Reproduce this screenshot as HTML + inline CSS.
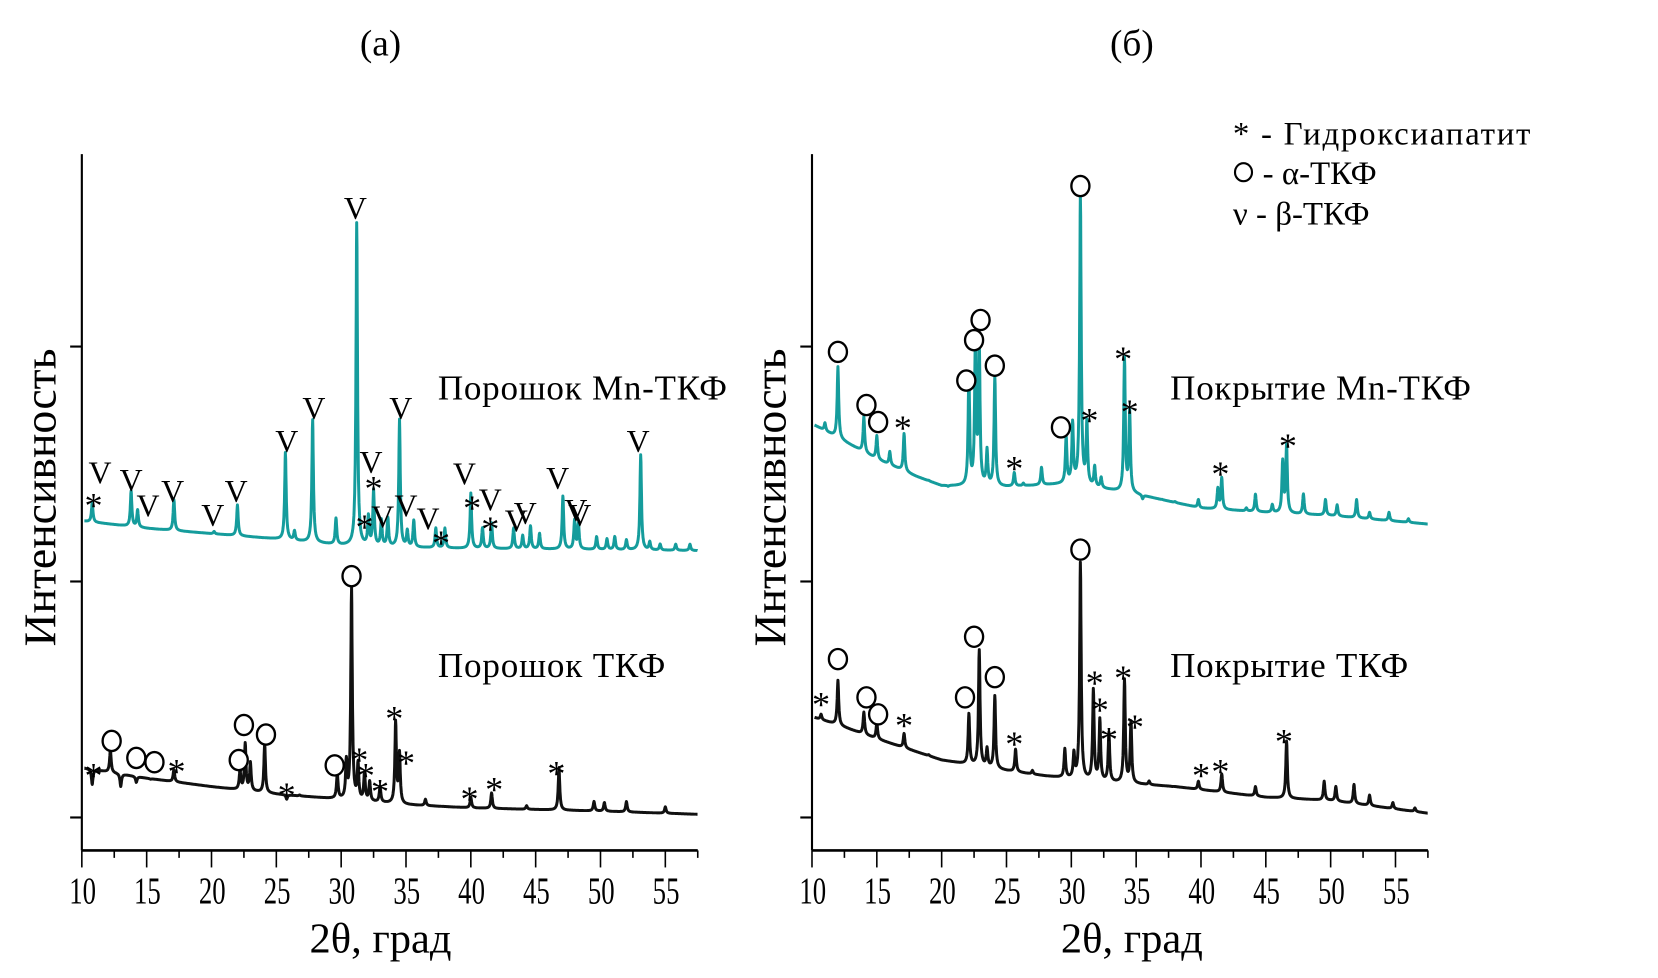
<!DOCTYPE html>
<html><head><meta charset="utf-8">
<style>
html,body{margin:0;padding:0;background:#fff;}
svg{display:block;}
text{font-family:"Liberation Serif","DejaVu Serif",serif;fill:#000;}
</style></head>
<body>
<svg id="chart" width="1658" height="978" viewBox="0 0 1560 920" preserveAspectRatio="none" xmlns="http://www.w3.org/2000/svg">
<g id="static">
<text x="358" y="52" font-size="35" text-anchor="middle">(a)</text>
<text x="1065" y="52" font-size="35" text-anchor="middle">(б)</text>
<text transform="translate(52,468) rotate(-90)" font-size="43" text-anchor="middle">Интенсивность</text>
<text transform="translate(739,468) rotate(-90)" font-size="43" text-anchor="middle">Интенсивность</text>
<text x="358" y="896" font-size="40" text-anchor="middle">2θ, град</text>
<text x="1065" y="896" font-size="40" text-anchor="middle">2θ, град</text>
<text x="412" y="376" font-size="33" textLength="272">Порошок Mn-ТКФ</text>
<text x="412" y="637" font-size="33" textLength="214">Порошок ТКФ</text>
<text x="1101" y="376" font-size="33" textLength="283">Покрытие Mn-ТКФ</text>
<text x="1101" y="637" font-size="33" textLength="224">Покрытие ТКФ</text>
<g>
<text x="1160" y="136" font-size="31" textLength="280">*  - Гидроксиапатит</text>
<ellipse cx="1170" cy="162" rx="8" ry="8.5" fill="none" stroke="#000" stroke-width="2"/>
<text x="1188" y="173" font-size="31">- α-ТКФ</text>
<text x="1160" y="211" font-size="31">ν  - β-ТКФ</text>
</g>
</g>
<g id="plots"></g>
</svg>
<script>
// axis ticks
const xTicks = [10,15,20,25,30,35,40,45,50,55];
const xTickLabels = ["10","15","20","25","30","35","40","45","50","55"];
const yTickValues = [31,253,474];

// Panel a, Mn-TCP powder (teal): baseline and peaks (2θ, top intensity)
const aMnBaseX = [10,15,20,25,30,35,40,50,57.5];
const aMnBaseY = [310,303,298,293,287,285,284,283,282];
const aMnPeakPos = [10.8,13.8,14.3,17.1,20.2,22.0,25.7,26.4,27.8,29.6,31.2,32.1,32.5,33.1,33.6,34.5,35.1,35.6,37.3,38.0,40.0,40.9,41.6,43.3,44.0,44.6,45.3,47.1,48.0,48.3,49.7,50.5,51.1,52.0,53.1,53.8,54.6,55.8,56.9];
const aMnPeakTop = [327,338,320,330,300,325,374,300,405,312,590,313,338,310,312,405,300,310,303,303,336,303,308,303,296,305,298,333,310,307,295,293,295,292,372,290,288,288,288];

// Panel a, TCP powder (black)
const aTBaseX = [10,15,20,25,30,35,40,50,57.5];
const aTBaseY = [78,68,60,53,48,43,40,37,34];
const aTPeakPos = [10.8,12.2,13.0,14.2,15.3,17.1,22.2,22.6,23.0,24.1,25.8,26.8,29.7,30.4,30.8,31.3,31.8,32.2,33.0,34.2,34.5,36.5,40.0,41.6,44.3,46.8,49.5,50.3,52.0,55.0];
const aTPeakTop = [62,95,60,64,67,76,76,100,82,100,48,52,72,82,245,80,72,64,60,120,90,48,50,54,42,78,46,45,46,41];

// Panel b, Mn-TCP coating (teal)
const bMnBaseX = [10.2,12,15,18,20,25,30,35,40,45,50,57.5];
const bMnBaseY = [400,388,368,352,343,342,345,335,322,318,315,307];
const bMnPeakPos = [11.0,12.0,14.0,15.0,16.0,17.1,19.0,20.5,22.1,22.6,22.9,23.5,24.1,25.6,26.3,27.7,29.6,30.1,30.7,31.2,31.8,32.3,34.1,34.5,35.5,37.0,38.0,39.8,41.3,41.6,42.5,43.5,44.2,45.5,46.3,46.6,47.9,49.6,50.5,52.0,53.0,54.5,56.0];
const bMnPeakTop = [402,455,408,390,375,392,348,342,445,475,472,375,445,355,345,360,388,400,615,400,360,350,462,412,330,330,328,330,340,350,320,322,335,325,365,380,335,330,325,330,318,318,312];

// Panel b, TCP coating (black)
const bTBaseX = [10.2,12,15,20,25,28,32,38,45,50,57.5];
const bTBaseY = [125,118,105,85,75,70,65,60,50,47,35];
const bTPeakPos = [10.7,12.0,14.0,15.0,17.1,19.0,22.1,22.9,23.5,24.1,25.7,27.0,29.5,30.2,30.7,31.7,32.2,32.9,34.1,34.6,36.0,37.8,39.8,41.6,44.2,46.6,49.5,50.4,51.8,53.0,54.8,56.5];
const bTPeakTop = [128,160,130,120,110,90,128,188,95,145,95,75,95,90,270,150,122,110,160,120,65,60,65,72,60,103,65,60,62,52,45,40];

// Phase markers: type (s=hydroxyapatite, o=alpha, v=beta), 2θ, intensity of marker centre
const aMnMarkType = ["s","v","v","v","v","v","v","v","v","v","v","s","s","v","v","v","v","s","v","s","v","s","v","v","v","v","v","v"];
const aMnMark2t =   [10.9,11.4,13.8,15.1,17.0,20.1,21.9,25.8,27.9,31.1,32.3,32.5,31.8,33.2,34.6,35.0,36.7,37.7,39.5,40.1,41.5,41.5,43.5,44.2,46.7,48.1,48.4,52.9];
const aMnMarkI =    [332,355,348,324,338,315,338,385,416,604,365,348,312,314,416,324,312,297,354,330,330,310,310,317,350,320,315,385];

const aTMarkType = ["s","o","o","o","s","o","o","o","s","o","o","s","s","s","s","s","s","s","s"];
const aTMark2t =   [10.9,12.3,14.2,15.6,17.3,22.1,22.5,24.2,25.8,29.5,30.8,31.4,31.9,33.0,34.1,35.0,39.9,41.8,46.6];
const aTMarkI =    [78,103,87,83,82,85,118,109,60,80,258,93,78,63,132,90,56,65,80];

const bMnMarkType = ["o","o","o","s","o","o","o","o","s","o","o","s","s","s","s","s"];
const bMnMark2t =   [12.0,14.2,15.1,17.0,21.9,22.5,23.0,24.1,25.6,29.2,30.7,31.4,34.0,34.5,41.5,46.7];
const bMnMarkI =    [469,419,403,405,442,480,499,456,367,398,625,412,470,420,362,388];

const bTMarkType = ["s","o","o","o","s","o","o","o","s","o","s","s","s","s","s","s","s","s"];
const bTMark2t =   [10.7,12.0,14.2,15.1,17.1,21.8,22.5,24.1,25.6,30.7,31.8,32.2,32.9,34.0,34.9,40.0,41.5,46.4];
const bTMarkI =    [145,180,144,128,125,144,201,163,108,283,165,140,112,170,124,78,82,110];

const NS = "http://www.w3.org/2000/svg";
const plots = document.getElementById("plots");

function mk(tag, attrs, parent){
  const e = document.createElementNS(NS, tag);
  for (const k in attrs) e.setAttribute(k, attrs[k]);
  parent.appendChild(e);
  return e;
}
function interp(xs, ys, x){
  if (x <= xs[0]) return ys[0];
  for (let i=1;i<xs.length;i++){ if (x<=xs[i]){ const t=(x-xs[i-1])/(xs[i]-xs[i-1]); return ys[i-1]+t*(ys[i]-ys[i-1]); } }
  return ys[ys.length-1];
}

function makePanel(name, x0){
  const panel = { x0:x0, yBottom:800 };
  panel.xs = v => x0 + (v-10)*12.2;
  panel.ys = v => 800 - v;
  const g = mk("g", {}, plots);
  
  
  panel.g = g;
  const yAxis = mk("line", {x1:x0,y1:145,x2:x0,y2:800,stroke:"#000","stroke-width":2}, g);
  
  
  const xAxis = mk("line", {x1:x0,y1:800,x2:panel.xs(57.5),y2:800,stroke:"#000","stroke-width":2.5}, g);
  
  
  yTickValues.forEach(v=>{
    const t = mk("line", {x1:x0-11,y1:panel.ys(v),x2:x0,y2:panel.ys(v),stroke:"#000","stroke-width":2}, g);
    
    
  });
  for (let v=10; v<=57.5; v+=2.5){
    const major = xTicks.includes(v);
    const t = mk("line", {x1:panel.xs(v),y1:800,x2:panel.xs(v),y2:major?816:807,stroke:"#000","stroke-width":1.5}, g);
    
    
  }
  xTicks.forEach((v,i)=>{
    const t = mk("text", {x:panel.xs(v)+1,y:850,"font-size":36,"text-anchor":"middle",transform:`translate(${panel.xs(v)},0) scale(0.7,1) translate(${-panel.xs(v)},0)`}, g);
    t.textContent = xTickLabels[i];
    
    
  });
  return panel;
}

function drawSeries(panel, name, baseX, baseY, pos, top, color, xStart){
  const w = 0.07;
  const amps = pos.map((p,i)=> top[i]-interp(baseX, baseY, p));
  let d = "";
  for (let x = xStart; x <= 57.5; x += 0.02){
    let y = interp(baseX, baseY, x);
    for (let i=0;i<pos.length;i++){ const dx=x-pos[i]; y += amps[i]*w*w/(dx*dx+w*w); }
    d += (d ? "L" : "M") + panel.xs(x).toFixed(1) + " " + panel.ys(y).toFixed(1);
  }
  const p = mk("path", {d:d, fill:"none", stroke:color, "stroke-width":2.8, "stroke-linejoin":"round"}, panel.g);
  
  
}

function drawMarks(panel, types, tt, ii){
  types.forEach((t,i)=>{
    const cx = panel.xs(tt[i]), cy = panel.ys(ii[i]);
    let e;
    if (t === "o"){
      e = mk("ellipse", {cx:cx, cy:cy, rx:8.5, ry:9.5, fill:"#fff", stroke:"#000", "stroke-width":2.2}, panel.g);
      
    } else if (t === "s"){
      e = mk("text", {x:cx, y:cy+19, "font-size":34, "text-anchor":"middle"}, panel.g);
      e.textContent = "*";
      
    } else {
      e = mk("text", {x:cx, y:cy+10, "font-size":30, "text-anchor":"middle"}, panel.g);
      e.textContent = "V";
      
    }
    
  });
}

const pa = makePanel("panel-a", 77);
const pb = makePanel("panel-b", 764);
drawSeries(pa, "series-powder-mn-tcp", aMnBaseX, aMnBaseY, aMnPeakPos, aMnPeakTop, "#159c9c", 10.2);
drawSeries(pa, "series-powder-tcp", aTBaseX, aTBaseY, aTPeakPos, aTPeakTop, "#111", 10.2);
drawSeries(pb, "series-coating-mn-tcp", bMnBaseX, bMnBaseY, bMnPeakPos, bMnPeakTop, "#159c9c", 10.2);
drawSeries(pb, "series-coating-tcp", bTBaseX, bTBaseY, bTPeakPos, bTPeakTop, "#111", 10.2);
drawMarks(pa, aMnMarkType, aMnMark2t, aMnMarkI);
drawMarks(pa, aTMarkType, aTMark2t, aTMarkI);
drawMarks(pb, bMnMarkType, bMnMark2t, bMnMarkI);
drawMarks(pb, bTMarkType, bTMark2t, bTMarkI);
</script>
</body></html>
